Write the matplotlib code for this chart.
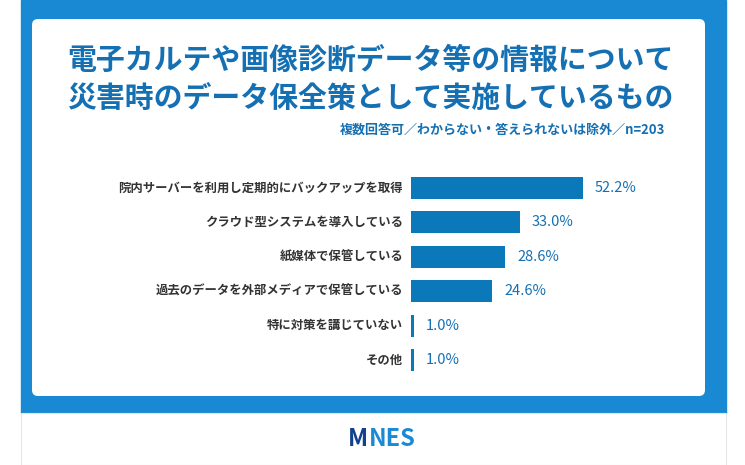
import matplotlib
matplotlib.use("Agg")
import matplotlib.pyplot as plt
from matplotlib.patches import FancyBboxPatch, Rectangle

plt.rcParams["font.family"] = "Noto Sans CJK JP"

categories = [
    "院内サーバーを利用し定期的にバックアップを取得",
    "クラウド型システムを導入している",
    "紙媒体で保管している",
    "過去のデータを外部メディアで保管している",
    "特に対策を講じていない",
    "その他",
]
values = [52.2, 33.0, 28.6, 24.6, 1.0, 1.0]
title_lines = ["電子カルテや画像診断データ等の情報について", "災害時のデータ保全策として実施しているもの"]
subtitle = "複数回答可／わからない・答えられないは除外／n=203"

W, H = 745, 465
BLUE = "#1889d2"
BAR = "#0b78b9"
TITLE = "#1470b3"

fig = plt.figure(figsize=(W / 100, H / 100), dpi=100)
bg = fig.add_axes([0, 0, 1, 1])
bg.set_xlim(0, W)
bg.set_ylim(H, 0)
bg.axis("off")

# blue frame, white card, footer
bg.add_patch(Rectangle((21, 0), 705, 413, color=BLUE))
bg.add_patch(FancyBboxPatch((32, 19), 673, 377, boxstyle="round,pad=0,rounding_size=6",
                            facecolor="white", edgecolor="none"))
bg.add_patch(Rectangle((21, 413), 705, 52, facecolor="white", edgecolor="#e6e6e6", lw=0.8))

bg.text(370, 60, title_lines[0], ha="center", va="center", fontsize=20.8,
        fontweight="bold", color=TITLE)
bg.text(370, 98, title_lines[1], ha="center", va="center", fontsize=20.8,
        fontweight="bold", color=TITLE)
bg.text(665, 130, subtitle, ha="right", va="center", fontsize=9.4,
        fontweight="bold", color=TITLE)

# logo
bg.text(358, 439, "M", ha="center", va="center", fontsize=17, fontstyle="italic",
        fontweight="bold", color="#12428f")
bg.text(392, 439, "NES", ha="center", va="center", fontsize=17,
        fontweight="bold", color="#1a8ad4")

# bar chart
ax = fig.add_axes([411 / W, 1 - 377.2 / H, 330 / W, 206.4 / H])
ypos = list(range(len(categories)))
ax.barh(ypos, values, height=0.64, color=BAR)
ax.set_xlim(0, 100)
ax.set_ylim(len(categories) - 0.5, -0.5)
ax.axis("off")
for y, v, c in zip(ypos, values, categories):
    ax.text(v + 3.6, y, f"{v:.1f}%", va="center", ha="left", fontsize=10.5, color=TITLE)
    ax.text(-2.4, y, c, va="center", ha="right", fontsize=8.9, fontweight="bold", color="#333333")

fig.savefig("out.png", dpi=100)
